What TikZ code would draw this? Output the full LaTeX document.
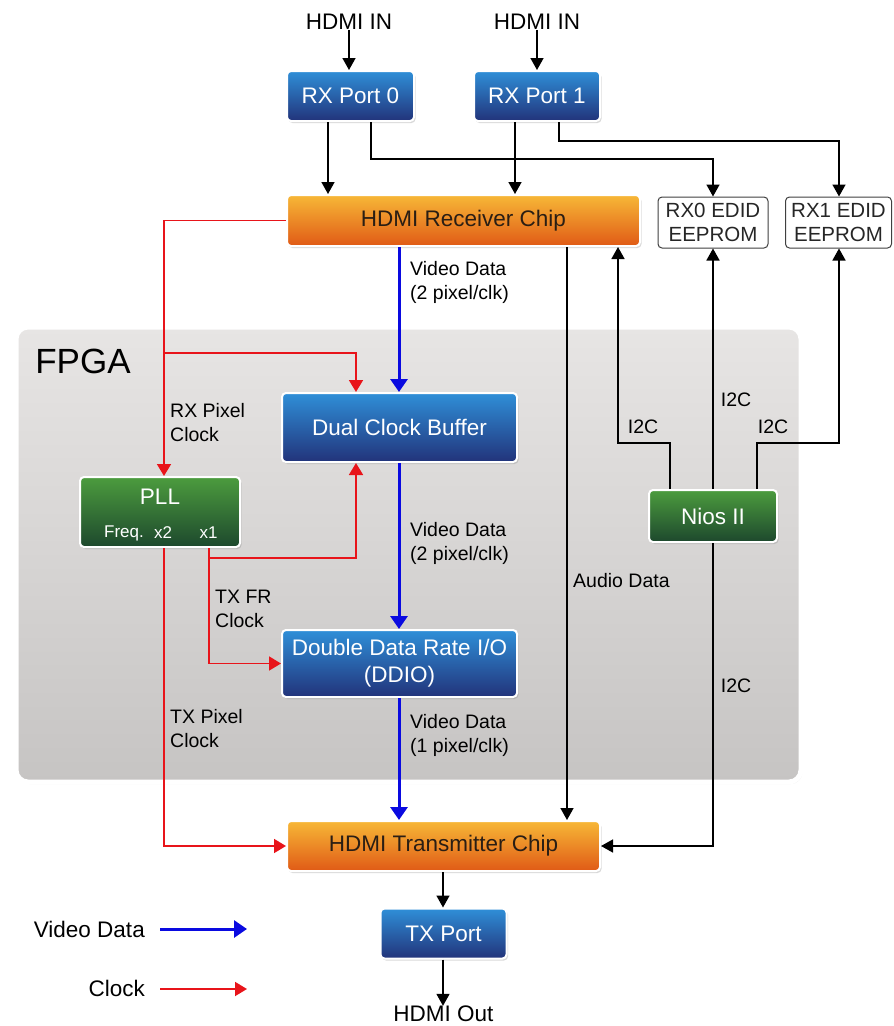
\documentclass[tikz,border=0pt]{standalone}
\usepackage{fontspec}
\setmainfont{Liberation Sans}
\usetikzlibrary{arrows.meta,shadows,calc}
\definecolor{bluetop}{HTML}{2F8FD8}
\definecolor{bluebot}{HTML}{22337A}
\definecolor{greentop}{HTML}{4C9C3E}
\definecolor{greenbot}{HTML}{1D482D}
\definecolor{orgtop}{HTML}{F7B837}
\definecolor{orgbot}{HTML}{E05A16}
\definecolor{paneltop}{HTML}{E7E5E4}
\definecolor{panelbot}{HTML}{C6C4C3}
\definecolor{clkred}{HTML}{E8141A}
\definecolor{vidblue}{HTML}{0A0AE0}
\definecolor{txtdark}{HTML}{2A1E14}
\newcommand\fntbox{\fontsize{22.5}{27}\selectfont}
\newcommand\fntlbl{\fontsize{19.5}{24}\selectfont}
\newcommand\fntee{\fontsize{20.5}{24}\selectfont}
\newcommand\fntsml{\fontsize{17}{20}\selectfont}
\newcommand\fntfpga{\fontsize{35}{40}\selectfont}
\newcommand\fntleg{\fontsize{22.5}{27}\selectfont}
\begin{document}
\begin{tikzpicture}[x=1pt,y=-1pt,
  box/.style={rounded corners=4pt, draw=white, line width=2pt, inner sep=0pt,
    drop shadow={opacity=0.3,shadow xshift=1.5pt,shadow yshift=-2pt}},
  bluebox/.style={box, top color=bluetop, bottom color=bluebot, text=white, font=\fntbox},
  greenbox/.style={box, top color=greentop, bottom color=greenbot, text=white, font=\fntbox},
  orangebox/.style={box, top color=orgtop, bottom color=orgbot, text=txtdark, font=\fntbox},
  eebox/.style={rounded corners=4pt, draw=black!75, line width=1pt, fill=white, inner sep=0pt,
    align=center, font=\fntee, text=black!85},
  lbl/.style={font=\fntlbl, align=left, anchor=west, inner sep=0pt, text=black},
  sigline/.style={draw=black, line width=1.6pt, -{Triangle[length=12pt,width=13pt]}},
  clkline/.style={draw=clkred, line width=1.8pt, -{Triangle[length=12pt,width=14pt]}},
  vidline/.style={draw=vidblue, line width=3pt, -{Triangle[length=13pt,width=17pt]}},
]
\useasboundingbox (0,0) rectangle (894,1026);

% FPGA panel
\draw[rounded corners=12pt, draw=white, line width=5pt, top color=paneltop, bottom color=panelbot,
  drop shadow={opacity=0.25,shadow xshift=1.5pt,shadow yshift=-2pt}] (16,327) rectangle (801,782);
\node[font=\fntfpga, inner sep=0pt] (fpga) at (83,361) {FPGA};

% top inputs
\node[font=\fntbox, inner sep=0pt] (in0) at (349,22) {HDMI IN};
\node[font=\fntbox, inner sep=0pt] (in1) at (537,22) {HDMI IN};

% boxes
\node[bluebox, minimum width=127pt, minimum height=50pt] (rx0) at (350.5,96) {RX Port 0};
\node[bluebox, minimum width=126pt, minimum height=50pt] (rx1) at (537,96) {RX Port 1};
\node[orangebox, minimum width=353pt, minimum height=51pt] (rcv) at (463.5,220.5) {HDMI Receiver Chip};
\node[eebox, minimum width=110pt, minimum height=51pt] (e0) at (713,222.5) {RX0 EDID\\EEPROM};
\node[eebox, minimum width=106pt, minimum height=51pt] (e1) at (838.5,222.5) {RX1 EDID\\EEPROM};
\node[bluebox, minimum width=235pt, minimum height=69pt] (dcb) at (399.5,427.5) {Dual Clock Buffer};
\node[greenbox, minimum width=160pt, minimum height=70pt] (pll) at (160,512) {};
\node[font=\fntbox, text=white, inner sep=0pt] (plltitle) at (160,497) {PLL};
\node[font=\fntsml, text=white, inner sep=0pt] (pllfreq) at (124,533) {Freq.};
\node[font=\fntsml, text=white, inner sep=0pt] (pllx2) at (163,533) {x2};
\node[font=\fntsml, text=white, inner sep=0pt] (pllx1) at (208.5,533) {x1};
\node[greenbox, minimum width=128pt, minimum height=52pt] (nios) at (713,516) {Nios II};
\node[bluebox, minimum width=235pt, minimum height=67pt, align=center] (ddio) at (399.5,663.5) {Double Data Rate I/O\\(DDIO)};
\node[orangebox, minimum width=313pt, minimum height=50pt] (tx) at (443.5,846) {HDMI Transmitter Chip};
\node[bluebox, minimum width=126pt, minimum height=50pt] (txp) at (443.5,933.5) {TX Port};
\node[font=\fntbox, inner sep=0pt] (out) at (443.5,1014) {HDMI Out};

% black connectors
\draw[sigline] (in0.south) -- (in0.south |- rx0.north);
\draw[sigline] (in1.south) -- (in1.south |- rx1.north);
\draw[sigline] (328,0 |- rx0.south) -- (328,0 |- rcv.north);
\draw[sigline] (515,0 |- rx1.south) -- (515,0 |- rcv.north);
\draw[sigline] (371,0 |- rx0.south) |- (713,159) -- (e0.north);
\draw[sigline] (559,0 |- rx1.south) |- (839,141) -- (839,0 |- e1.north);
\draw[sigline] (567,0 |- rcv.south) -- (567,0 |- tx.north);
\draw[sigline] (670,0 |- nios.north) |- (618,443) -- (618,0 |- rcv.south);
\draw[sigline] (nios.north) -- (e0.south);
\draw[sigline] (757,0 |- nios.north) |- (839,443) -- (839,0 |- e1.south);
\draw[sigline] (nios.south) |- (tx.east);
\draw[sigline] (443,0 |- tx.south) -- (443,0 |- txp.north);
\draw[sigline] (443,0 |- txp.south) -- (443,0 |- out.north);

% video connectors
\draw[vidline] (399,0 |- rcv.south) -- (399,0 |- dcb.north);
\draw[vidline] (399,0 |- dcb.south) -- (399,0 |- ddio.north);
\draw[vidline] (399,0 |- ddio.south) -- (399,0 |- tx.north);

% clock connectors
\coordinate (brk) at (164,353);
\coordinate (x1bend) at (209,558);
\draw[clkline] (rcv.west) -| (164,0 |- pll.north);
\draw[clkline] (brk) -| (356,0 |- dcb.north);
\draw[clkline] (209,0 |- pll.south) -- (x1bend) -| (356,0 |- dcb.south);
\draw[clkline] (x1bend) |- (ddio.west);
\draw[clkline] (164,0 |- pll.south) |- (tx.west);

% labels
\node[lbl] (l1) at (410,282) {Video Data\\(2 pixel/clk)};
\node[lbl] (l2) at (410,543.5) {Video Data\\(2 pixel/clk)};
\node[lbl] (l3) at (410,735) {Video Data\\(1 pixel/clk)};
\node[lbl] (l4) at (170,423) {RX Pixel\\Clock};
\node[lbl] (l5) at (215,609) {TX FR\\Clock};
\node[lbl] (l6) at (170,729) {TX Pixel\\Clock};
\node[lbl] (l7) at (573,581) {Audio Data};
\node[lbl, anchor=center] (i1) at (643,427) {I2C};
\node[lbl, anchor=center] (i2) at (736,400) {I2C};
\node[lbl, anchor=center] (i3) at (773,427) {I2C};
\node[lbl, anchor=center] (i4) at (736,686) {I2C};

% legend
\node[font=\fntleg, anchor=east, inner sep=0pt] (legv) at (145,929) {Video Data};
\node[font=\fntleg, anchor=east, inner sep=0pt] (legc) at (145,988) {Clock};
\coordinate (legvs) at (160,929);
\coordinate (legve) at (247,929);
\coordinate (legcs) at (160,989);
\coordinate (legce) at (247,989);
\draw[vidline] (legvs) -- (legve);
\draw[clkline] (legcs) -- (legce);
\end{tikzpicture}
\end{document}
